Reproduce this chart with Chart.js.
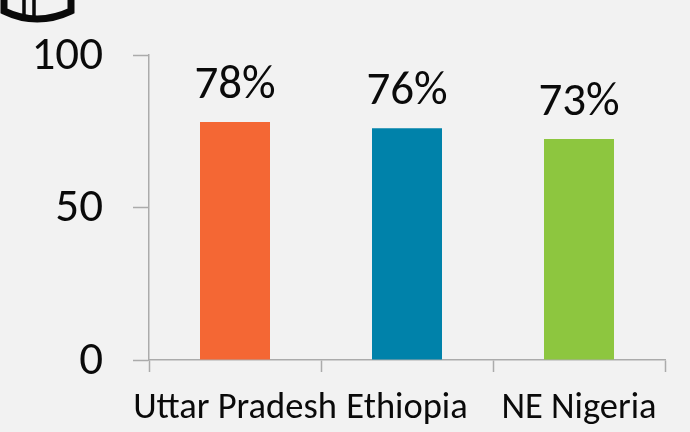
<!doctype html>
<html>
<head>
	<title>Chart</title>
	<script src="https://cdn.jsdelivr.net/npm/chart.js@4"></script>
	<style>
		html, body { margin: 0; padding: 0; background: #f2f2f2; }
		#holder { position: absolute; left: 0; top: 0; width: 690px; height: 432px; }
	</style>
</head>
<body>
	<div id="holder"><canvas id="chart-area" width="690" height="432"></canvas></div>
	<script>
		var categories = ['Uttar Pradesh', 'Ethiopia', 'NE Nigeria'];
		var values = [78, 76, 72.5];
		var valueLabels = ['78%', '76%', '73%'];
		var colors = ['#F46734', '#0082AA', '#8DC63F'];
		var yTicks = [0, 50, 100];
		var fontName = "Carlito, Lato, sans-serif";
		var axisColor = '#ababab';

		var barLabels = {
			id: 'barLabels',
			afterDatasetsDraw: function(chart) {
				var ctx = chart.ctx;
				ctx.save();
				ctx.font = '47px ' + fontName;
				ctx.fillStyle = '#0a0a0a';
				ctx.textAlign = 'center';
				ctx.textBaseline = 'alphabetic';
				chart.getDatasetMeta(0).data.forEach(function(bar, i) {
					ctx.fillText(valueLabels[i], bar.x, bar.y - 24);
				});
				ctx.restore();
			}
		};

		// cut-off icon in the top left corner of the slide
		var cornerIcon = {
			id: 'cornerIcon',
			afterDraw: function(chart) {
				var ctx = chart.ctx;
				ctx.save();
				ctx.strokeStyle = '#0a0a0a';
				ctx.lineWidth = 7;
				ctx.beginPath();
				ctx.moveTo(4, 0);
				ctx.lineTo(4, 11);
				ctx.quadraticCurveTo(37, 27, 71, 11);
				ctx.lineTo(71, 0);
				ctx.stroke();
				ctx.lineWidth = 3.5;
				ctx.beginPath();
				ctx.moveTo(24, 0);
				ctx.lineTo(24, 16);
				ctx.moveTo(34, 0);
				ctx.lineTo(34, 17);
				ctx.stroke();
				ctx.restore();
			}
		};

		var context = document.getElementById('chart-area').getContext('2d');
		context.textRendering = 'optimizeSpeed';

		new Chart(context, {
			type: 'bar',
			data: {
				labels: categories,
				datasets: [{ data: values, backgroundColor: colors, barPercentage: 1, categoryPercentage: 70 / 172 }]
			},
			options: {
				responsive: false,
				animation: false,
				layout: { padding: { left: 0, right: 25, top: 55, bottom: 0 } },
				plugins: { legend: { display: false }, tooltip: { enabled: false } },
				scales: {
					x: {
						afterFit: function(axis) { axis.height = 72; },
						grid: { drawOnChartArea: false, tickLength: 12, tickColor: axisColor, tickWidth: 1.5 },
						border: { color: axisColor, width: 1.5 },
						ticks: { color: '#0a0a0a', padding: 15, font: { size: 36.5, family: fontName }, maxRotation: 0, autoSkip: false }
					},
					y: {
						min: 0,
						max: 100,
						afterBuildTicks: function(axis) {
							axis.ticks = yTicks.map(function(v) { return { value: v }; });
						},
						afterFit: function(axis) { axis.width = 149; axis.paddingTop = 0; axis.paddingBottom = 0; },
						grid: { drawOnChartArea: false, tickLength: 16, tickColor: axisColor, tickWidth: 1.5 },
						border: { color: axisColor, width: 1.5 },
						ticks: { color: '#0a0a0a', padding: 30, labelOffset: 2, font: { size: 47, family: fontName } }
					}
				}
			},
			plugins: [barLabels, cornerIcon]
		});
	</script>
</body>
</html>
